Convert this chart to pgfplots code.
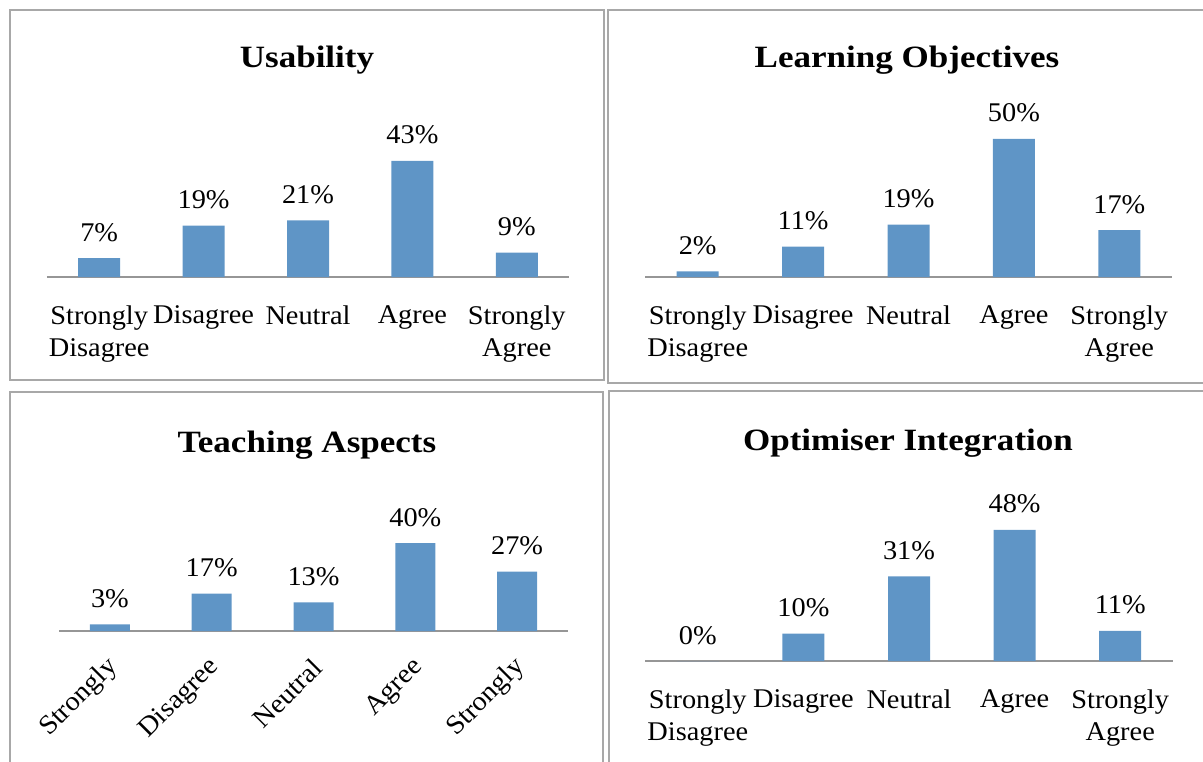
\documentclass[border=0pt]{standalone}
\usepackage{fontspec}
\usepackage{pgfplots}
\pgfplotsset{compat=1.18}
\setmainfont{Liberation Serif}[FakeStretch=1.05]
\newfontfamily\titlefont{Liberation Serif}[FakeStretch=1.13]
\definecolor{barblue}{RGB}{95,149,198}
\definecolor{axisgrey}{RGB}{150,150,150}
\definecolor{framegrey}{RGB}{168,168,168}
\newcommand{\lblfont}{\fontsize{13.5}{16}\selectfont}
\newcommand{\ttlfont}{\titlefont\bfseries\fontsize{15.5}{18}\selectfont}
\pgfplotsset{
  panel/.style={
    anchor=south west, clip=false,
    ybar, bar width=21pt,
    xmin=-0.5, xmax=4.5, ymin=0, ymax=60,
    axis x line*=bottom, axis y line=none,
    x axis line style={draw=axisgrey, line width=0.8pt},
    xtick={0,1,2,3,4}, major tick length=0pt,
    ytick=\empty,
    tick label style={font=\lblfont},
    xticklabel style={align=center, inner sep=0pt, anchor=north, yshift=-14pt},
    nodes near coords={\pgfmathprintnumber[assume math mode=true]{\pgfplotspointmeta}\%},
    every node near coord/.append style={font=\lblfont, anchor=base, inner sep=0pt, yshift=8.5pt, text=black},
  },
  barstyle/.style={fill=barblue, draw=none},
}
\begin{document}
\begin{tikzpicture}
\useasboundingbox (0pt,0pt) rectangle (601.5pt,380.5pt);
\clip (0pt,0pt) rectangle (601.5pt,380.5pt);
% frames
\draw[framegrey, line width=1.1pt] (5pt,375.5pt) rectangle (302pt,190.5pt);
\draw[framegrey, line width=1.1pt] (304pt,375.5pt) rectangle (610pt,189pt);
\draw[framegrey, line width=1.1pt] (5pt,184.5pt) rectangle (301.5pt,-10pt);
\draw[framegrey, line width=1.1pt] (304.5pt,185pt) rectangle (610pt,-10pt);

% Usability
\begin{axis}[panel, at={(23.5pt,242pt)}, x=52.2pt, y=1.35pt,
  xticklabels={{Strongly\\Disagree},Disagree,Neutral,Agree,{Strongly\\Agree}}]
\addplot[barstyle] coordinates {(0,7) (1,19) (2,21) (3,43) (4,9)};
\end{axis}
\node[font=\ttlfont, anchor=base] at (153.5pt,346.5pt) {Usability};

% Learning Objectives
\begin{axis}[panel, at={(322.5pt,242pt)}, x=52.7pt, y=1.38pt,
  xticklabels={{Strongly\\Disagree},Disagree,Neutral,Agree,{Strongly\\Agree}}]
\addplot[barstyle] coordinates {(0,2) (1,11) (2,19) (3,50) (4,17)};
\end{axis}
\node[font=\ttlfont, anchor=base] at (453.5pt,346.5pt) {Learning Objectives};

% Teaching Aspects
\begin{axis}[panel, at={(29.5pt,65pt)}, x=50.9pt, y=1.1pt, bar width=20pt,
  xticklabels={Strongly,Disagree,Neutral,Agree,Strongly},
  xticklabel style={align=none, anchor=east, xshift=2pt, yshift=-2pt, rotate=45}]
\addplot[barstyle] coordinates {(0,3) (1,17) (2,13) (3,40) (4,27)};
\end{axis}
\node[font=\ttlfont, anchor=base] at (153.5pt,154.5pt) {Teaching Aspects};

% Optimiser Integration
\begin{axis}[panel, at={(322.5pt,50pt)}, x=52.8pt, y=1.365pt,
  xticklabels={{Strongly\\Disagree},Disagree,Neutral,Agree,{Strongly\\Agree}}]
\addplot[barstyle] coordinates {(0,0) (1,10) (2,31) (3,48) (4,11)};
\end{axis}
\node[font=\ttlfont, anchor=base] at (454pt,155.5pt) {Optimiser Integration};
\end{tikzpicture}
\end{document}
